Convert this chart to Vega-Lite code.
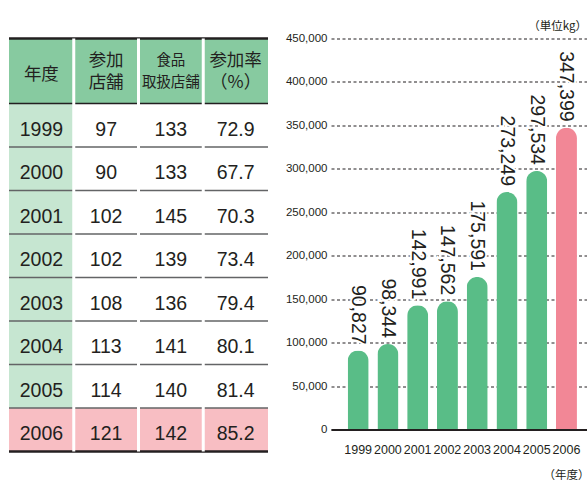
{
  "$schema": "https://vega.github.io/schema/vega-lite/v6.json",
  "padding": {"left": 7, "top": 20.5, "right": 0, "bottom": 0},
  "background": "white",
  "config": {"view": {"stroke": null}, "font": "Liberation Sans"},
  "datasets": {
    "years": [
      {"year": "1999", "stores": 97, "food": 133, "rate": 72.9, "kg": 90827},
      {"year": "2000", "stores": 90, "food": 133, "rate": 67.7, "kg": 98344},
      {"year": "2001", "stores": 102, "food": 145, "rate": 70.3, "kg": 142991},
      {"year": "2002", "stores": 102, "food": 139, "rate": 73.4, "kg": 147562},
      {"year": "2003", "stores": 108, "food": 136, "rate": 79.4, "kg": 175591},
      {"year": "2004", "stores": 113, "food": 141, "rate": 80.1, "kg": 273249},
      {"year": "2005", "stores": 114, "food": 140, "rate": 81.4, "kg": 297534},
      {"year": "2006", "stores": 121, "food": 142, "rate": 85.2, "kg": 347399}
    ],
    "header": [
      {"col": "year", "part": "header", "head": ["年度"]},
      {"col": "stores", "part": "header", "head": ["参加", "店舗"]},
      {"col": "food", "part": "header", "head": ["食品", "取扱店舗"]},
      {"col": "rate", "part": "header", "head": ["参加率", "（%）"]}
    ]
  },
  "bounds": "flush",
  "spacing": 63,
  "resolve": {"scale": {"x": "independent", "y": "independent"}},
  "hconcat": [
    {
      "width": 259,
      "height": 413,
      "resolve": {"scale": {"y": "independent"}},
      "encoding": {
        "x": {"field": "col", "type": "nominal", "scale": {"domain": ["year", "stores", "food", "rate"], "paddingInner": 0, "paddingOuter": 0}, "axis": null}
      },
      "layer": [
        {
          "data": {"name": "years"},
          "transform": [{"fold": ["year", "stores", "food", "rate"], "as": ["col", "val"]}],
          "encoding": {
            "y": {"field": "year", "type": "ordinal", "scale": {"type": "band", "paddingInner": 0, "paddingOuter": 0.747, "align": 1}, "axis": null}
          },
          "layer": [
            {
              "mark": {"type": "rect"},
              "encoding": {
                "color": {
                  "condition": [
                    {"test": "datum.year == '2006'", "value": "#f8bec3"},
                    {"test": "datum.col == 'year'", "value": "#c6e6d1"}
                  ],
                  "value": "white"
                }
              }
            },
            {
              "transform": [{"filter": "datum.col == 'year'"}],
              "mark": {"type": "rule"},
              "encoding": {
                "x": null,
                "y": {"field": "year", "type": "ordinal", "bandPosition": 1},
                "color": {"condition": {"test": "datum.year == '2006'", "value": "#231f20"}, "value": "#636466"},
                "strokeWidth": {"condition": {"test": "datum.year == '2006'", "value": 2.5}, "value": 1.5}
              }
            },
            {
              "mark": {"type": "text", "font": "Liberation Sans", "fontSize": 19.5, "color": "#231f20", "dy": 4.5},
              "encoding": {
                "y": {"field": "year", "type": "ordinal", "bandPosition": 0.5},
                "text": {"field": "val", "type": "nominal"}
              }
            }
          ]
        },
        {
          "data": {"name": "header"},
          "encoding": {
            "y": {"field": "part", "type": "nominal", "scale": {"type": "band", "range": [0, 65], "paddingInner": 0, "paddingOuter": 0}, "axis": null}
          },
          "layer": [
            {
              "mark": {"type": "rect", "color": "#87caa0"}
            },
            {
              "transform": [{"filter": "datum.col == 'year'"}],
              "mark": {"type": "rule", "color": "#231f20", "strokeWidth": 2.5},
              "encoding": {"x": null, "y": {"field": "part", "type": "nominal", "bandPosition": 0}}
            },
            {
              "transform": [{"filter": "datum.col == 'year'"}],
              "mark": {"type": "rule", "color": "#231f20", "strokeWidth": 1.3},
              "encoding": {"x": null, "y": {"field": "part", "type": "nominal", "bandPosition": 1}}
            },
            {
              "transform": [{"filter": "datum.col != 'year'"}],
              "mark": {"type": "rule", "color": "white", "strokeWidth": 3},
              "encoding": {"y": null, "x": {"field": "col", "type": "nominal", "bandPosition": 0}}
            },
            {
              "transform": [{"filter": "datum.col == 'year'"}],
              "mark": {"type": "text", "font": "Noto Sans CJK JP", "color": "#231f20", "fontSize": 17.5, "baseline": "middle", "dy": 3.5},
              "encoding": {
                "y": {"field": "part", "type": "nominal", "bandPosition": 0.5},
                "text": {"field": "head"}
              }
            },
            {
              "transform": [{"filter": "datum.col != 'year'"}],
              "mark": {"type": "text", "font": "Noto Sans CJK JP", "color": "#231f20", "lineHeight": 21.5, "baseline": "middle", "dy": -10},
              "encoding": {
                "y": {"field": "part", "type": "nominal", "bandPosition": 0.5},
                "text": {"field": "head"},
                "size": {"condition": {"test": "datum.col == 'food'", "value": 14.5}, "value": 17.5}
              }
            }
          ]
        }
      ]
    },
    {
      "width": 258,
      "height": 391,
      "data": {"name": "years"},
      "title": {"text": "（単位kg）", "anchor": "end", "font": "Noto Sans CJK JP", "fontSize": 11.5, "fontWeight": "normal", "color": "#231f20", "offset": 0, "dx": -2},
      "encoding": {
        "x": {
          "field": "year", "type": "ordinal",
          "scale": {"paddingInner": 0.294, "paddingOuter": 0.482, "align": 0.58},
          "axis": {
            "title": "（年度）", "titleAnchor": "end", "titleFont": "Noto Sans CJK JP", "titleFontSize": 11.5, "titleFontWeight": "normal", "titleColor": "#231f20", "titlePadding": 13,
            "labelAngle": 0, "labelFont": "Liberation Sans", "labelFontSize": 12.5, "labelColor": "#231f20", "labelPadding": 14, "labelOverlap": false,
            "ticks": false, "tickSize": 0, "domain": true, "domainColor": "#231f20", "domainWidth": 2, "zindex": 1
          }
        },
        "y": {
          "field": "kg", "type": "quantitative",
          "scale": {"domain": [0, 450000], "nice": false},
          "axis": {
            "title": null, "values": [0, 50000, 100000, 150000, 200000, 250000, 300000, 350000, 400000, 450000],
            "labelExpr": "format(datum.value, ',')",
            "labelFont": "Liberation Sans", "labelFontSize": 11.5, "labelColor": "#231f20", "labelPadding": 4,
            "ticks": false, "tickSize": 0, "domain": false, "grid": true, "gridColor": "#231f20", "gridDash": [3, 2.5], "gridWidth": 1
          }
        }
      },
      "layer": [
        {
          "mark": {"type": "bar", "cornerRadiusTopLeft": 10.5, "cornerRadiusTopRight": 10.5},
          "encoding": {
            "color": {"condition": {"test": "datum.year == '2006'", "value": "#f28796"}, "value": "#59bd87"}
          }
        },
        {
          "mark": {"type": "text", "angle": 90, "align": "right", "baseline": "middle", "dx": -6, "font": "Liberation Sans", "fontSize": 19.5, "color": "white", "stroke": "white", "strokeWidth": 4},
          "encoding": {"text": {"field": "kg", "type": "quantitative", "format": ","}}
        },
        {
          "mark": {"type": "text", "angle": 90, "align": "right", "baseline": "middle", "dx": -6, "font": "Liberation Sans", "fontSize": 19.5, "color": "#231f20"},
          "encoding": {"text": {"field": "kg", "type": "quantitative", "format": ","}}
        }
      ]
    }
  ]
}
